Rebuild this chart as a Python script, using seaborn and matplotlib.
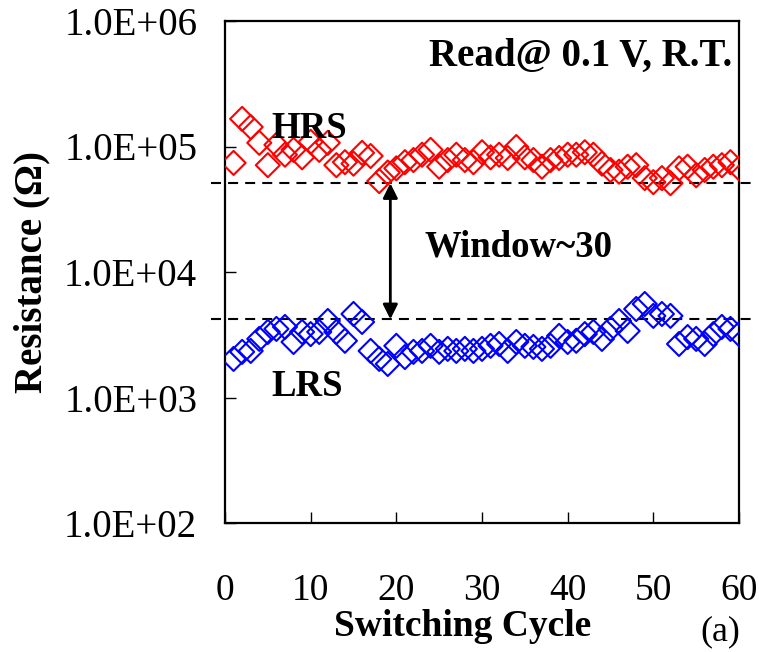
import matplotlib
matplotlib.use("Agg")
import matplotlib.pyplot as plt
import numpy as np
import pandas as pd
import seaborn as sns
from matplotlib.ticker import FixedLocator, FuncFormatter

# Resistance of the two states over 60 switching cycles
cycles = list(range(1, 61))
hrs_ohm = [7.4e4, 1.66e5, 1.43e5, 1.07e5, 7.1e4, 1.03e5, 8.6e4, 9.4e4, 8.2e4, 1.09e5,
           9.4e4, 1.07e5, 7.1e4, 7.5e4, 7.3e4, 8.9e4, 8.4e4, 5.3e4, 6.2e4, 6.7e4,
           7.5e4, 7.8e4, 8.6e4, 9.4e4, 6.9e4, 7.8e4, 8.6e4, 7.8e4, 7.5e4, 9.0e4,
           8.2e4, 8.6e4, 8.1e4, 9.9e4, 8.2e4, 7.8e4, 6.9e4, 7.8e4, 8.1e4, 8.6e4,
           8.6e4, 9.0e4, 8.6e4, 7.3e4, 6.5e4, 6.3e4, 6.9e4, 7.1e4, 5.6e4, 5.2e4,
           5.6e4, 5.1e4, 6.7e4, 6.9e4, 5.9e4, 6.5e4, 6.9e4, 7.1e4, 7.5e4, 6.7e4]
lrs_ohm = [2.03e3, 2.31e3, 2.35e3, 2.93e3, 3.33e3, 3.52e3, 3.65e3, 2.77e3, 3.33e3, 3.2e3,
           3.33e3, 4.07e3, 3.33e3, 2.83e3, 4.63e3, 4.0e3, 2.35e3, 2.03e3, 1.85e3, 2.58e3,
           2.1e3, 2.31e3, 2.35e3, 2.58e3, 2.31e3, 2.44e3, 2.35e3, 2.44e3, 2.35e3, 2.44e3,
           2.58e3, 2.67e3, 2.35e3, 2.77e3, 2.58e3, 2.53e3, 2.44e3, 2.58e3, 3.1e3, 2.77e3,
           2.83e3, 3.2e3, 3.33e3, 2.93e3, 3.52e3, 4.07e3, 3.39e3, 5.07e3, 5.56e3, 4.47e3,
           4.63e3, 4.47e3, 2.67e3, 3.03e3, 2.93e3, 2.67e3, 3.2e3, 3.65e3, 3.52e3, 3.2e3]

# Window boundaries (lowest HRS / highest LRS) and where the arrow sits
hrs_floor = 5.1e4
lrs_ceiling = 4.2e3
window_cycle = 19.3

x_ticks = [0, 10, 20, 30, 40, 50, 60]
y_ticks = [1e2, 1e3, 1e4, 1e5, 1e6]

df = pd.DataFrame({
    "cycle": cycles * 2,
    "R": hrs_ohm + lrs_ohm,
    "state": ["HRS"] * len(cycles) + ["LRS"] * len(cycles),
})

sns.set_theme(style="ticks")
plt.rcParams["font.family"] = ["Liberation Serif", "DejaVu Serif"]

fig = plt.figure(figsize=(7.59, 6.52), dpi=100)
ax = fig.add_axes([225 / 759, 1 - 523 / 652, 514 / 759, 502 / 652])

palette = {"HRS": "#FF0000", "LRS": "#0000FF"}
for state, sub in df.groupby("state"):
    sns.scatterplot(data=sub, x="cycle", y="R", ax=ax, marker="D", s=150,
                    facecolors="none", edgecolor=palette[state], linewidth=1.5,
                    legend=False, zorder=3)

ax.set_yscale("log")
ax.set_xlim(0, 60)
ax.set_ylim(1e2, 1e6)
ax.xaxis.set_major_locator(FixedLocator(x_ticks))
ax.yaxis.set_major_locator(FixedLocator(y_ticks))
ax.yaxis.set_minor_locator(FixedLocator([]))
ax.yaxis.set_major_formatter(FuncFormatter(lambda v, p: f"{v:.1E}"))

ax.tick_params(axis="both", which="major", direction="in", length=8, width=1.0,
               color="black", labelcolor="black")
ax.tick_params(axis="y", labelsize=28, pad=20)
ax.tick_params(axis="x", labelsize=27, pad=36)
for side in ax.spines.values():
    side.set_color("black")
    side.set_linewidth(1.6)

ax.set_xlabel("Switching Cycle", fontsize=27, fontweight="bold", color="black")
ax.set_ylabel("Resistance (Ω)", fontsize=28, fontweight="bold", color="black")
ax.xaxis.set_label_coords(0.463, -0.172)
ax.yaxis.set_label_coords(-0.34, 0.5)

# Dashed guides marking the resistance window
for level in (hrs_floor, lrs_ceiling):
    ax.axhline(level, xmin=-0.028, xmax=1.025, color="black", lw=1.5,
               ls=(0, (4.8, 3.4)), clip_on=False, zorder=2)

ax.annotate("", xy=(window_cycle, lrs_ceiling), xytext=(window_cycle, hrs_floor),
            arrowprops=dict(arrowstyle="<|-|>", color="black", lw=2,
                            mutation_scale=22, shrinkA=0, shrinkB=0), zorder=4)

ax.text(0.986, 0.91, "Read@ 0.1 V, R.T.", transform=ax.transAxes, ha="right",
        va="baseline", fontsize=28, fontweight="bold", color="black")
ax.text(0.389, 0.53, "Window~30", transform=ax.transAxes, ha="left",
        va="baseline", fontsize=26.5, fontweight="bold", color="black")
ax.text(0.090, 0.767, "HRS", transform=ax.transAxes, ha="left",
        va="baseline", fontsize=26.5, fontweight="bold", color="black")
ax.text(0.090, 0.253, "LRS", transform=ax.transAxes, ha="left",
        va="baseline", fontsize=26.5, fontweight="bold", color="black")

fig.text(740 / 759, 1 - 632 / 652, "(a)", ha="right", va="center", fontsize=26,
         color="black")

fig.savefig("out.png", dpi=100, facecolor="white")
